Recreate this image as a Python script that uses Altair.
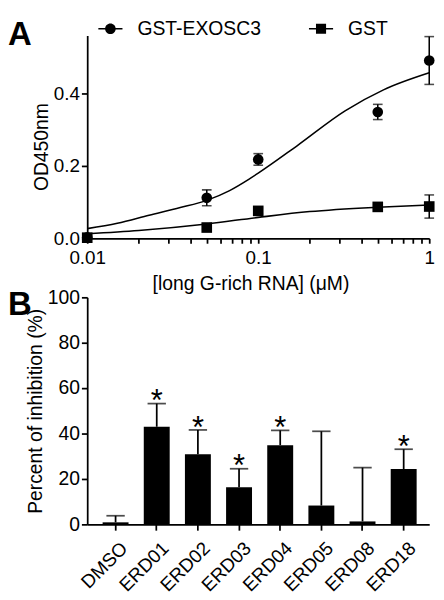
import altair as alt
import pandas as pd

FONT = "Liberation Sans"

# ---------------- Panel A : binding curve ----------------
series_names = ["GST-EXOSC3", "GST"]
conc_uM = [0.01, 0.05, 0.1, 0.5, 1.0]
exosc3_mean = [0.003, 0.112, 0.218, 0.349, 0.491]
exosc3_sem = [0.0, 0.022, 0.016, 0.021, 0.066]
gst_mean = [0.002, 0.030, 0.076, 0.087, 0.088]
gst_sem = [0.0, 0.004, 0.008, 0.005, 0.032]

# fitted curves
exosc3_fit_x = [0.01, 0.015, 0.023, 0.035, 0.05, 0.068, 0.088, 0.1, 0.168, 0.322, 0.54, 1.0]
exosc3_fit_y = [0.027, 0.042, 0.064, 0.085, 0.105, 0.132, 0.163, 0.180, 0.255, 0.352, 0.410, 0.457]
gst_fit_x = [0.01, 0.02, 0.05, 0.1, 0.2, 0.5, 1.0]
gst_fit_y = [0.013, 0.022, 0.040, 0.058, 0.074, 0.086, 0.092]

x_major_ticks = [0.01, 0.1, 1]
x_minor_ticks = [0.02, 0.03, 0.04, 0.05, 0.06, 0.07, 0.08, 0.09,
                 0.2, 0.3, 0.4, 0.5, 0.6, 0.7, 0.8, 0.9]
y_ticks_a = [0, 0.2, 0.4]

# ---------------- Panel B : inhibition ----------------
compounds = ["DMSO", "ERD01", "ERD02", "ERD03", "ERD04", "ERD05", "ERD08", "ERD18"]
inhibition = [0.9, 43.0, 30.9, 16.3, 34.9, 8.3, 1.3, 24.4]
inhibition_sem = [2.9, 10.2, 10.7, 8.2, 6.5, 32.7, 23.7, 8.7]
significance = ["", "*", "*", "*", "*", "", "", "*"]
y_ticks_b = [0, 20, 40, 60, 80, 100]

panel_labels = ["A", "B"]

# ---------------- tables ----------------
pts = pd.DataFrame({
    "conc": conc_uM + conc_uM,
    "od": exosc3_mean + gst_mean,
    "sem": exosc3_sem + gst_sem,
    "series": [series_names[0]] * len(conc_uM) + [series_names[1]] * len(conc_uM),
})
fit = pd.DataFrame({
    "conc": exosc3_fit_x + gst_fit_x,
    "od": exosc3_fit_y + gst_fit_y,
    "series": [series_names[0]] * len(exosc3_fit_x) + [series_names[1]] * len(gst_fit_x),
})
bars_df = pd.DataFrame({
    "compound": compounds,
    "inh": inhibition,
    "sem": inhibition_sem,
    "sig": significance,
})

# legend symbols: marker with a line through it
circle_sym = "M-2.27,-0.14H2.27V0.14H-2.27Z M-1,0A1,1,0,1,1,1,0A1,1,0,1,1,-1,0Z"
square_sym = "M-2.27,-0.14H2.27V0.14H-2.27Z M-0.95,-0.95H0.95V0.95H-0.95Z"

major_js = "[" + ",".join(str(v) for v in x_major_ticks) + "]"
x_a = alt.X(
    "conc:Q",
    scale=alt.Scale(type="log", domain=[x_major_ticks[0], x_major_ticks[-1]], nice=False),
    axis=alt.Axis(
        values=sorted(x_major_ticks + x_minor_ticks),
        labelExpr=f"indexof({major_js}, datum.value) >= 0 ? format(datum.value, '~g') : ''",
        labelFlush=False, labelOverlap=False,
        title="[long G-rich RNA] (μM)", titlePadding=7, titleX=169,
        tickSize=5, labelPadding=6,
    ),
)
y_a = alt.Y(
    "od:Q",
    scale=alt.Scale(domain=[0, 0.56], nice=False),
    axis=alt.Axis(values=y_ticks_a, format=".1f", title="OD450nm",
                  tickSize=6, labelPadding=2, titlePadding=2, titleY=115),
)

curves = alt.Chart(fit).mark_line(color="black", strokeWidth=1.6, interpolate="monotone").encode(
    x=x_a, y=y_a, detail="series:N"
)
err_a = alt.Chart(pts).transform_filter("datum.sem > 0").transform_calculate(
    lo="datum.od - datum.sem", hi="datum.od + datum.sem"
)
err_rules = err_a.mark_rule(color="black", strokeWidth=1.6).encode(
    x="conc:Q", y="lo:Q", y2="hi:Q"
)
cap_hi = err_a.mark_tick(orient="horizontal", size=10, thickness=1.6, color="black").encode(
    x="conc:Q", y="hi:Q"
)
cap_lo = err_a.mark_tick(orient="horizontal", size=10, thickness=1.6, color="black").encode(
    x="conc:Q", y="lo:Q"
)
points = alt.Chart(pts).mark_point(filled=True, size=121, opacity=1, color="black").encode(
    x="conc:Q", y="od:Q",
    shape=alt.Shape("series:N", scale=alt.Scale(domain=series_names, range=["circle", "square"]),
                    legend=None),
)
legend_layer = alt.Chart(pts).transform_filter("false").mark_point(
    filled=True, size=121, opacity=1, color="black"
).encode(
    shape=alt.Shape(
        "series:N",
        scale=alt.Scale(domain=series_names, range=[circle_sym, square_sym]),
        legend=alt.Legend(
            orient="none", legendX=14, legendY=-17, direction="horizontal", title=None,
            labelFontSize=20, labelFont=FONT, labelColor="black", labelOffset=18,
            columnPadding=49, symbolSize=121, padding=0, symbolStrokeWidth=0,
            symbolFillColor="black", symbolOpacity=1, labelLimit=400,
        ),
    )
)
label_a = alt.Chart(pd.DataFrame({"lab": [panel_labels[0]]})).mark_text(
    fontSize=34, fontWeight="bold", font=FONT, align="left", baseline="alphabetic", color="black"
).encode(text="lab:N", x=alt.value(-82), y=alt.value(10))

panel_a = alt.layer(curves, err_rules, cap_hi, cap_lo, points, legend_layer, label_a).resolve_scale(
    shape="independent"
).properties(width=354, height=210)

# ---------------- Panel B ----------------
x_b = alt.X(
    "compound:N", sort=compounds,
    scale=alt.Scale(paddingInner=0.37, paddingOuter=0.34, align=0.55),
    axis=alt.Axis(title=None, labelAngle=-45, labelAlign="right", labelBaseline="top",
                  tickSize=6, labelPadding=9, labelOffset=3, labelFontSize=19.5),
)
y_b = alt.Y(
    "inh:Q", scale=alt.Scale(domain=[0, 100], nice=False),
    axis=alt.Axis(values=y_ticks_b, title="Percent of inhibition (%)", tickSize=6,
                  labelPadding=2, titlePadding=2, labelFontSize=20),
)
base_b = alt.Chart(bars_df)
bars = base_b.mark_bar(color="black").encode(x=x_b, y=y_b)
err_b = base_b.transform_calculate(hi="datum.inh + datum.sem")
err_b_rule = err_b.mark_rule(color="black", strokeWidth=1.8).encode(
    x="compound:N", y="inh:Q", y2="hi:Q"
)
err_b_cap = err_b.mark_tick(orient="horizontal", size=19, thickness=1.8, color="black").encode(
    x="compound:N", y="hi:Q"
)
stars = err_b.mark_text(fontSize=32, font=FONT, baseline="alphabetic", dy=8, color="black").encode(
    x="compound:N", y="hi:Q", text="sig:N"
)
label_b = alt.Chart(pd.DataFrame({"lab": [panel_labels[1]]})).mark_text(
    fontSize=34, fontWeight="bold", font=FONT, align="left", baseline="alphabetic", color="black"
).encode(text="lab:N", x=alt.value(-82), y=alt.value(18))

panel_b = alt.layer(bars, err_b_rule, err_b_cap, stars, label_b).properties(width=354, height=235)

chart = alt.vconcat(panel_a, panel_b, spacing=61, bounds="flush").properties(
    padding={"left": 0, "right": 1, "top": 1, "bottom": 1}
).configure_view(stroke=None).configure_axis(
    grid=False, domainColor="black", domainWidth=1.8, tickColor="black", tickWidth=1.8,
    labelColor="black", titleColor="black", labelFont=FONT, titleFont=FONT,
    labelFontSize=19.5, titleFontSize=20, titleFontWeight="normal",
)

chart.save("out.html", embed_options={"renderer": "svg", "actions": False})
